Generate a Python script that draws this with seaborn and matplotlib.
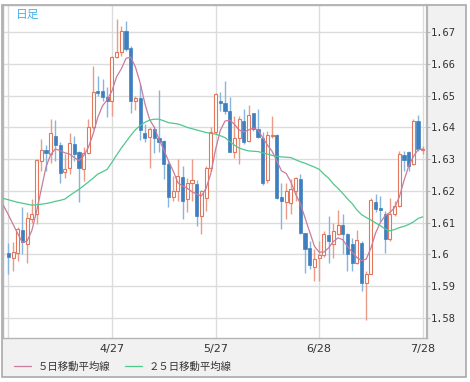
import matplotlib
matplotlib.use("Agg")
import matplotlib.pyplot as plt
from matplotlib.patches import Rectangle
import numpy as np
import pandas as pd
import seaborn as sns

# daily OHLC, 3/28 .. 7/28 (weekdays)
opens = [1.6003, 1.5989, 1.6005, 1.6076, 1.6034, 1.6111, 1.6128, 1.6295, 1.6329, 1.6316,
         1.6374, 1.6345, 1.6258, 1.6272, 1.6349, 1.6321, 1.6268, 1.6318, 1.6400, 1.6516,
         1.6516, 1.6495, 1.6482, 1.6621, 1.6639, 1.6703, 1.6650, 1.6482, 1.6493, 1.6384,
         1.6371, 1.6395, 1.6368, 1.6356, 1.6286, 1.6181, 1.6200, 1.6245, 1.6174, 1.6226,
         1.6221, 1.6121, 1.6179, 1.6272, 1.6387, 1.6482, 1.6476, 1.6453, 1.6321, 1.6366,
         1.6419, 1.6358, 1.6444, 1.6395, 1.6368, 1.6235, 1.6373, 1.6377, 1.6181, 1.6166,
         1.6161, 1.6198, 1.6237, 1.6066, 1.6019, 1.5960, 1.5987, 1.5998, 1.6061, 1.6032,
         1.6063, 1.6093, 1.6065, 1.6034, 1.5971, 1.6037, 1.5911, 1.5939, 1.6166, 1.6145,
         1.6128, 1.6047, 1.6126, 1.6153, 1.6314, 1.6324, 1.6284, 1.6421, 1.6328]
highs = [1.6037, 1.6039, 1.6086, 1.6149, 1.6132, 1.6174, 1.6300, 1.6363, 1.6345, 1.6426,
         1.6423, 1.6353, 1.6316, 1.6381, 1.6374, 1.6326, 1.6337, 1.6426, 1.6595, 1.6563,
         1.6553, 1.6528, 1.6626, 1.6742, 1.6721, 1.6737, 1.6658, 1.6500, 1.6537, 1.6411,
         1.6402, 1.6405, 1.6518, 1.6360, 1.6295, 1.6247, 1.6300, 1.6279, 1.6240, 1.6300,
         1.6235, 1.6202, 1.6279, 1.6400, 1.6507, 1.6511, 1.6547, 1.6495, 1.6437, 1.6437,
         1.6458, 1.6472, 1.6447, 1.6458, 1.6387, 1.6389, 1.6437, 1.6379, 1.6226, 1.6226,
         1.6237, 1.6244, 1.6253, 1.6068, 1.6042, 1.6016, 1.6042, 1.6074, 1.6121, 1.6100,
         1.6139, 1.6126, 1.6068, 1.6051, 1.6076, 1.6042, 1.5947, 1.6176, 1.6189, 1.6184,
         1.6135, 1.6177, 1.6168, 1.6326, 1.6326, 1.6326, 1.6426, 1.6440, 1.6342]
lows = [1.5939, 1.5947, 1.5979, 1.6000, 1.5974, 1.6100, 1.6097, 1.6263, 1.6263, 1.6289,
        1.6295, 1.6226, 1.6242, 1.6253, 1.6295, 1.6166, 1.6232, 1.6316, 1.6395, 1.6500,
        1.6482, 1.6432, 1.6437, 1.6618, 1.6626, 1.6642, 1.6447, 1.6455, 1.6360, 1.6353,
        1.6272, 1.6318, 1.6321, 1.6237, 1.6149, 1.6168, 1.6168, 1.6111, 1.6132, 1.6168,
        1.6089, 1.6063, 1.6135, 1.6263, 1.6379, 1.6453, 1.6442, 1.6321, 1.6305, 1.6286,
        1.6349, 1.6353, 1.6389, 1.6366, 1.6219, 1.6226, 1.6368, 1.6174, 1.6079, 1.6111,
        1.6126, 1.6168, 1.6063, 1.5942, 1.5953, 1.5916, 1.5916, 1.5992, 1.5974, 1.5989,
        1.6061, 1.6000, 1.5947, 1.5947, 1.5968, 1.5884, 1.5792, 1.5937, 1.6132, 1.6105,
        1.6005, 1.6042, 1.6121, 1.6149, 1.6263, 1.6263, 1.6282, 1.6326, 1.6316]
closes = [1.5993, 1.6006, 1.6081, 1.6039, 1.6114, 1.6128, 1.6297, 1.6328, 1.6318, 1.6382,
          1.6344, 1.6257, 1.6268, 1.6351, 1.6316, 1.6272, 1.6318, 1.6400, 1.6511, 1.6507,
          1.6495, 1.6484, 1.6621, 1.6639, 1.6703, 1.6647, 1.6482, 1.6493, 1.6392, 1.6368,
          1.6395, 1.6368, 1.6355, 1.6286, 1.6181, 1.6198, 1.6247, 1.6168, 1.6224, 1.6235,
          1.6121, 1.6198, 1.6272, 1.6387, 1.6505, 1.6476, 1.6451, 1.6323, 1.6368, 1.6428,
          1.6355, 1.6439, 1.6395, 1.6371, 1.6224, 1.6377, 1.6377, 1.6179, 1.6168, 1.6198,
          1.6205, 1.6240, 1.6066, 1.6016, 1.5966, 1.5986, 1.5998, 1.6063, 1.6042, 1.6074,
          1.6093, 1.6063, 1.6002, 1.5971, 1.6044, 1.5911, 1.5939, 1.6172, 1.6144, 1.6139,
          1.6049, 1.6126, 1.6153, 1.6316, 1.6298, 1.6279, 1.6421, 1.6332, 1.6333]

# moving averages as drawn (they start one day before the first visible candle)
ma5 = [1.6153, 1.6125, 1.6095, 1.6065, 1.6037, 1.6042, 1.6075, 1.6135, 1.6205, 1.6275,
       1.6315, 1.6332, 1.6327, 1.6320, 1.6316, 1.6305, 1.6295, 1.6311, 1.6337, 1.6379,
       1.6432, 1.6468, 1.6487, 1.6515, 1.6560, 1.6585, 1.6618, 1.6622, 1.6590, 1.6540,
       1.6475, 1.6425, 1.6400, 1.6362, 1.6330, 1.6295, 1.6263, 1.6226, 1.6215, 1.6208,
       1.6197, 1.6190, 1.6184, 1.6208, 1.6255, 1.6330, 1.6390, 1.6420, 1.6423, 1.6410,
       1.6392, 1.6386, 1.6392, 1.6398, 1.6392, 1.6368, 1.6345, 1.6325, 1.6295, 1.6263,
       1.6255, 1.6228, 1.6190, 1.6160, 1.6115, 1.6070, 1.6025, 1.6007, 1.6007, 1.6020,
       1.6040, 1.6052, 1.6046, 1.6025, 1.6007, 1.5990, 1.5980, 1.5985, 1.6020, 1.6068,
       1.6100, 1.6122, 1.6132, 1.6147, 1.6180, 1.6232, 1.6278, 1.6308, 1.6330, 1.6332]
ma25 = [1.6176, 1.6172, 1.6168, 1.6164, 1.6161, 1.6158, 1.6155, 1.6156, 1.6158, 1.6160,
        1.6163, 1.6167, 1.6170, 1.6174, 1.6185, 1.6195, 1.6205, 1.6216, 1.6228, 1.6240,
        1.6253, 1.6260, 1.6268, 1.6290, 1.6313, 1.6335, 1.6355, 1.6375, 1.6393, 1.6406,
        1.6416, 1.6423, 1.6426, 1.6426, 1.6421, 1.6415, 1.6413, 1.6411, 1.6406, 1.6400,
        1.6396, 1.6392, 1.6388, 1.6384, 1.6381, 1.6379, 1.6374, 1.6368, 1.6356, 1.6344,
        1.6335, 1.6330, 1.6326, 1.6325, 1.6324, 1.6320, 1.6316, 1.6312, 1.6309, 1.6307,
        1.6306, 1.6305, 1.6298, 1.6292, 1.6287, 1.6281, 1.6275, 1.6268, 1.6253, 1.6240,
        1.6222, 1.6208, 1.6192, 1.6175, 1.6160, 1.6140, 1.6125, 1.6116, 1.6108, 1.6099,
        1.6090, 1.6080, 1.6074, 1.6078, 1.6084, 1.6088, 1.6094, 1.6102, 1.6113, 1.6118]

date_ticks = [0, 22, 44, 66, 88]
date_labels = ["", "4/27", "5/27", "6/28", "7/28"]
price_labels = ["1.58", "1.59", "1.6", "1.61", "1.62", "1.63", "1.64", "1.65", "1.66", "1.67"]

sns.set_style("white")
plt.rcParams["font.family"] = ["Noto Sans CJK JP", "DejaVu Sans"]

df = pd.DataFrame({"day": np.arange(len(opens)), "open": opens, "high": highs,
                   "low": lows, "close": closes})
df["up"] = df["close"] >= df["open"]
ma = pd.DataFrame({"day": np.arange(-1, len(opens)), "ma5": ma5, "ma25": ma25})

W, H = 470, 382
fig = plt.figure(figsize=(W / 100, H / 100), dpi=100)

# grey outer frame (right price panel + bottom date/legend panel)
fig.patches.append(Rectangle((2 / W, 1 - 377 / H), 464 / W, 372.5 / H,
                             transform=fig.transFigure, facecolor="#f1f1f1",
                             edgecolor="#a9a9a9", lw=1.2, zorder=-1))

ax = fig.add_axes([2.7 / W, 1 - 337.7 / H, 424 / W, 333 / H])
ax.set_facecolor("white")

red, red_wick = "#e2775c", "#eb9c88"
blue, blue_wick = "#3f7fbf", "#86b6de"

up = df[df["up"]]
dn = df[~df["up"]]
ax.vlines(up["day"], up["low"], up["high"], color=red_wick, lw=1, zorder=2)
ax.vlines(dn["day"], dn["low"], dn["high"], color=blue_wick, lw=1, zorder=2)
ax.bar(up["day"], (up["close"] - up["open"]).clip(lower=0.00012), bottom=up["open"],
       width=0.64, facecolor="white", edgecolor=red, lw=0.8, zorder=3)
ax.bar(dn["day"], (dn["open"] - dn["close"]).clip(lower=0.00012), bottom=dn["close"],
       width=0.68, facecolor=blue, edgecolor=blue, lw=0.5, zorder=3)

sns.lineplot(data=ma, x="day", y="ma5", ax=ax, color="#c97c9c", lw=0.9,
             label="５日移動平均線", zorder=4)
sns.lineplot(data=ma, x="day", y="ma25", ax=ax, color="#4fc88c", lw=0.9,
             label="２５日移動平均線", zorder=4)

ax.set_xlim(-1.19, 88.83)
ax.set_ylim(1.5737, 1.6787)
ax.set_xlabel("")
ax.set_ylabel("")

ax.set_xticks(date_ticks)
ax.set_xticklabels(date_labels, fontsize=8, color="#333333", family=["DejaVu Sans"])
ax.set_yticks([float(s) for s in price_labels])
ax.set_yticklabels(price_labels, fontsize=7.5, color="#333333", family=["DejaVu Sans Mono"])
ax.yaxis.tick_right()
ax.tick_params(axis="x", length=0, pad=4.5)
ax.tick_params(axis="y", length=2, width=0.8, color="#b8b8b8", pad=1)
ax.grid(True, color="#dcdcdc", lw=1)
ax.set_axisbelow(True)
for side, sp in ax.spines.items():
    sp.set_color("#b5b5b5")
    sp.set_linewidth(1)
ax.spines["right"].set_linewidth(1.6)

ax.text(13 / 424, 1 - 9.5 / 333, "日足", transform=ax.transAxes, fontsize=8.5,
        color="#45b2ec", va="center", ha="left")

ax.legend(loc="center left", bbox_to_anchor=(14 / W, 1 - 366.5 / H),
          bbox_transform=fig.transFigure, ncol=2, frameon=False, fontsize=7.5,
          handlelength=1.65, handletextpad=0.6, columnspacing=1.4,
          borderpad=0, borderaxespad=0, labelcolor="#333333")

fig.savefig("out.png", dpi=100, facecolor="white")
